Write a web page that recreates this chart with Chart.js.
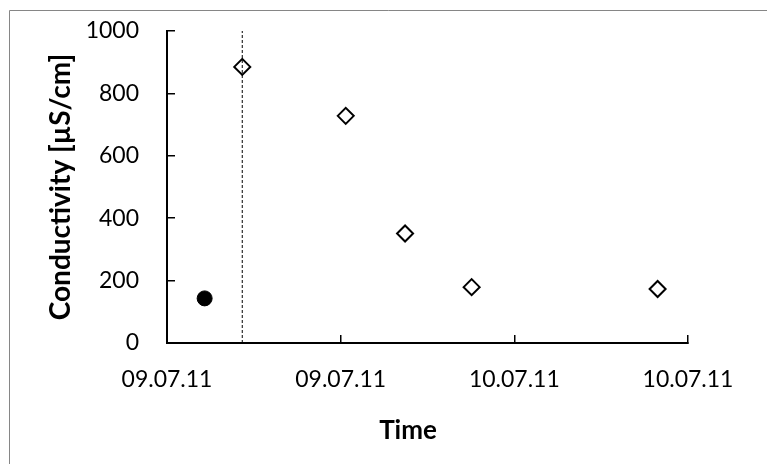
<!DOCTYPE html>
<html>
<head>
<meta charset="utf-8">
<script src="https://cdn.jsdelivr.net/npm/chart.js@4.4.1/dist/chart.umd.min.js"></script>
<style>
  html, body { margin: 0; padding: 0; background: #fff; }
  #wrap { width: 767px; height: 464px; position: relative; }
</style>
</head>
<body>
<div id="wrap"><canvas id="grafico" width="767" height="464"></canvas></div>
<script>
// hours after 09.07.11 00:00
let horasInicial = [2.6];
let condInicial = [143];

let horasAmostra = [5.2, 12.35, 16.45, 21.05, 33.9];
let condAmostra = [885, 728, 351, 179, 173];

// dashed marker line at first sample
let horasLinha = [5.2, 5.2];
let condLinha = [0, 1000];

let rotulosX = ['09.07.11', '09.07.11', '10.07.11', '10.07.11'];

function pontos(xs, ys) {
    return xs.map((x, i) => ({ x: x, y: ys[i] }));
}

// outer frame + x axis title
const moldura = {
    id: 'moldura',
    beforeDraw(chart) {
        let ctx = chart.ctx;
        ctx.save();
        ctx.fillStyle = '#fff';
        ctx.fillRect(0, 0, chart.width, chart.height);
        ctx.strokeStyle = '#868686';
        ctx.lineWidth = 1;
        ctx.beginPath();
        ctx.moveTo(9.5, chart.height + 5);
        ctx.lineTo(9.5, 10.5);
        ctx.lineTo(chart.width + 5, 10.5);
        ctx.stroke();
        ctx.restore();
    },
    afterDraw(chart) {
        let ctx = chart.ctx;
        ctx.save();
        ctx.fillStyle = '#000';
        ctx.font = 'bold 26px Lato';
        ctx.textAlign = 'center';
        ctx.textBaseline = 'middle';
        ctx.fillText('Time', 408, 431);
        ctx.restore();
    }
};

Chart.defaults.font.family = 'Lato';
Chart.defaults.color = '#000';

let ctx = document.getElementById('grafico').getContext('2d');
new Chart(ctx, {
    type: 'scatter',
    data: {
        datasets: [
            {
                label: 'linha',
                data: pontos(horasLinha, condLinha),
                showLine: true,
                borderColor: '#000',
                borderWidth: 1,
                borderDash: [3, 2],
                pointRadius: 0
            },
            {
                label: 'inicial',
                data: pontos(horasInicial, condInicial),
                pointStyle: 'circle',
                pointRadius: 7.5,
                backgroundColor: '#000',
                borderColor: '#000',
                borderWidth: 1
            },
            {
                label: 'amostras',
                data: pontos(horasAmostra, condAmostra),
                pointStyle: 'rectRot',
                pointRadius: 8,
                backgroundColor: '#fff',
                borderColor: '#000',
                borderWidth: 2
            }
        ]
    },
    options: {
        responsive: false,
        animation: false,
        events: [],
        layout: { padding: { left: 0, top: 31, right: 79, bottom: 0 } },
        plugins: {
            legend: { display: false },
            tooltip: { enabled: false }
        },
        scales: {
            x: {
                type: 'linear',
                min: 0,
                max: 36,
                afterFit: (s) => {
                    s.height = 121;
                    s.paddingLeft = 0;
                    s.paddingRight = 0;
                },
                afterBuildTicks: (s) => {
                    s.ticks = rotulosX.map((_, i) => ({ value: i * 12 }));
                },
                ticks: {
                    font: { size: 23 },
                    padding: 31,
                    maxRotation: 0,
                    autoSkip: false,
                    callback: (v, i) => rotulosX[i]
                },
                grid: {
                    drawOnChartArea: false,
                    drawTicks: true,
                    tickLength: -8,
                    color: '#000',
                    lineWidth: 1.5
                },
                border: { color: '#000', width: 2 }
            },
            y: {
                min: 0,
                max: 1000,
                afterFit: (s) => {
                    s.width = 167;
                    s.paddingTop = 0;
                    s.paddingBottom = 0;
                },
                ticks: {
                    stepSize: 200,
                    font: { size: 23 },
                    padding: 36,
                    callback: (v) => String(v)
                },
                grid: {
                    drawOnChartArea: false,
                    drawTicks: true,
                    tickLength: -8,
                    color: '#000',
                    lineWidth: 1.5
                },
                border: { color: '#000', width: 2 },
                title: {
                    display: true,
                    text: 'Conductivity [µS/cm]',
                    font: { size: 28, weight: 'bold' },
                    padding: { top: 44, bottom: 0 }
                }
            }
        }
    },
    plugins: [moldura]
});
</script>
</body>
</html>
